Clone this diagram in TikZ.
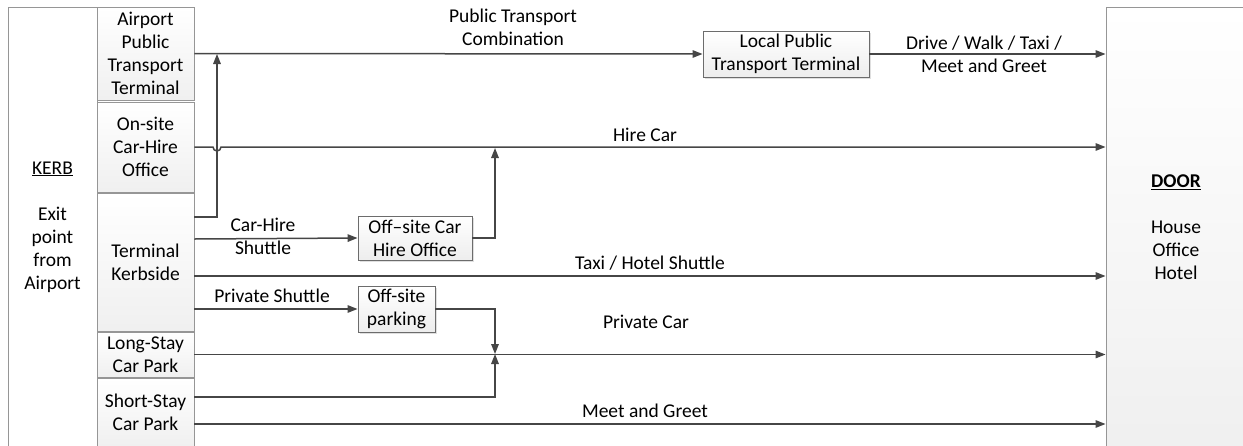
\documentclass[tikz,border=0pt]{standalone}
\usepackage{fontspec}
\setmainfont{Carlito}
\usetikzlibrary{arrows.meta,shadows}
\definecolor{wire}{RGB}{70,70,70}
\definecolor{edge}{RGB}{150,150,150}
\begin{document}
\begin{tikzpicture}[x=1pt,y=-1pt,
  every node/.style={font=\fontsize{19.5}{23}\selectfont, align=center, inner sep=0pt},
  panel/.style={draw=edge, line width=0.9pt, top color=white, bottom color=gray!12},
  colbox/.style={panel, minimum width=97pt},
  stepbox/.style={draw=gray!85!black, line width=0.9pt, top color=white, bottom color=gray!14,
    drop shadow={shadow xshift=1.5pt, shadow yshift=-1.5pt, opacity=0.25, fill=gray}},
  link/.style={draw=wire, line width=1.5pt},
  arr/.style={link, -{Triangle[length=10pt,width=7.5pt]}}]
\useasboundingbox (0,0) rectangle (1243,445);
\clip (0,0) rectangle (1243,445);

% end points
\node[draw=edge, line width=0.9pt, fill=white, minimum width=89pt, minimum height=440pt] (kerb) at (52.5,227) {};
\node at (52.5,227) (kerbtxt) {\underline{KERB}\\[23pt]Exit\\point\\from\\Airport};
\node[panel, minimum width=140pt, minimum height=440pt] (door) at (1176,227) {};
\node at (1176,227) (doortxt) {\textbf{\underline{DOOR}}\\[23pt]House\\Office\\Hotel};

% airport exit column
\node[colbox, minimum height=93pt] (apt) at (145.5,53.5) {Airport\\Public\\Transport\\Terminal};
\node[colbox, minimum height=90pt] (onsite) at (145.5,147) {On-site\\Car-Hire\\Office};
\node[colbox, minimum height=138pt] (kerbside) at (145.5,262) {Terminal\\Kerbside};
\node[colbox, minimum height=45pt] (longstay) at (145.5,354.5) {Long-Stay\\Car Park};
\node[colbox, minimum height=69pt] (shortstay) at (145.5,412.5) {Short-Stay\\Car Park};

% intermediate stops
\node[stepbox, minimum width=166pt, minimum height=46pt] (lptt) at (786,54) {Local Public\\Transport Terminal};
\node[stepbox, minimum width=114pt, minimum height=44pt] (offcar) at (415,238) {Off–site Car\\Hire Office};
\node[stepbox, minimum width=77pt, minimum height=46pt] (park) at (396.5,309) {Off-site\\parking};

% junction points
\coordinate (pubjoin) at (217,54);
\coordinate (hirejoin) at (495,148);
\coordinate (carjoin) at (495,354);

% public transport combination
\draw[arr] (apt.east) -- (lptt.west);
\draw[arr] (lptt.east) -- (door.west |- lptt.east);
\draw[arr] ([yshift=45pt]kerbside.east) -| (pubjoin);

% hire car, with a hop over the vertical line
\draw[arr] (onsite.east) -- (213,147) arc[start angle=180, end angle=0, radius=4] -- (door.west |- onsite.east);
\draw[arr] ([yshift=23pt]kerbside.east) -- (offcar.west);
\draw[arr] (offcar.east) -| (hirejoin);

% taxi / hotel shuttle
\draw[arr] ([yshift=-14pt]kerbside.east) -- (door.west |- 0,276);

% private car
\draw[arr] ([yshift=-47pt]kerbside.east) -- (park.west);
\draw[arr] (park.east) -| (carjoin);
\draw[arr] (longstay.east) -- (door.west |- longstay.east);
\draw[arr] ([yshift=15.5pt]shortstay.east) -| (carjoin);

% meet and greet
\draw[arr] ([yshift=-11.5pt]shortstay.east) -- (door.west |- 0,424);

% labels
\node at (513,27.5) (lblpub) {Public Transport\\Combination};
\node at (984,54.5) (lbldrive) {Drive / Walk / Taxi /\\Meet and Greet};
\node at (645,135) (lblhire) {Hire Car};
\node at (263,236.5) (lblshuttle) {Car-Hire\\Shuttle};
\node at (650,263) (lbltaxi) {Taxi / Hotel Shuttle};
\node at (272,296) (lblpriv) {Private Shuttle};
\node at (646,322) (lblcar) {Private Car};
\node at (645,411) (lblmeet) {Meet and Greet};
\end{tikzpicture}
\end{document}
